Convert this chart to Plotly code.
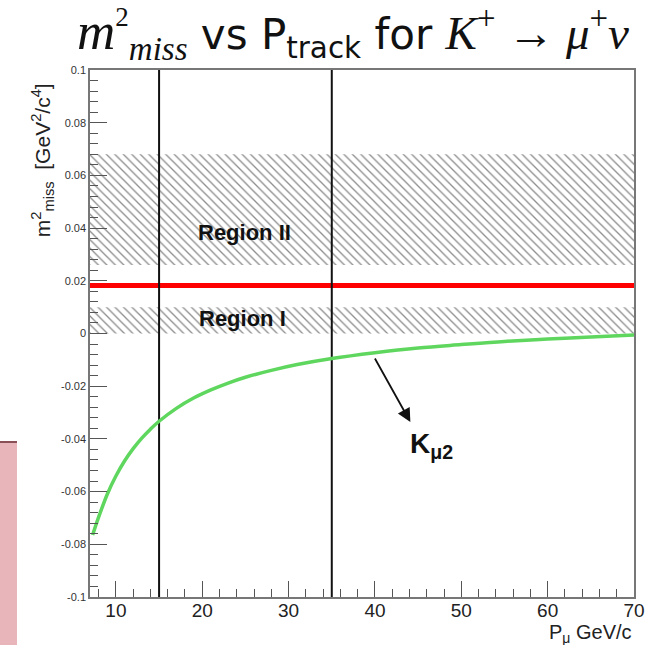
import plotly.graph_objects as go

# Track momentum (GeV/c) and squared missing mass (GeV^2/c^4) of the K_mu2 band
p_track = [7.3, 8, 9, 10, 11, 12, 13, 14, 15, 17, 19, 21, 23, 25, 28, 31, 35,
           40, 45, 50, 55, 60, 65, 70]
m2_kmu2 = [-0.0765, -0.0697, -0.0610, -0.0541, -0.0484, -0.0437, -0.0397, -0.0363,
           -0.0333, -0.0284, -0.0245, -0.0214, -0.0188, -0.0166, -0.0140, -0.0118,
           -0.0095, -0.0073, -0.0055, -0.0042, -0.0030, -0.0021, -0.0013, -0.0006]

# Signal regions in m^2_miss (low, high)
region_names = ["Region I", "Region II"]
region_low = [0.0, 0.026]
region_high = [0.010, 0.068]
region_label_x = [24.7, 24.9]
region_label_y = [0.0058, 0.0385]

# pi0 mass squared line
m2_pi0 = 0.0182

# Momentum cuts
p_cuts = [15, 35]

x_range = [7, 70]
y_range = [-0.1, 0.1]
y_tick_vals = [-0.1, -0.08, -0.06, -0.04, -0.02, 0, 0.02, 0.04, 0.06, 0.08, 0.1]
y_tick_text = ["-0.1", "-0.08", "-0.06", "-0.04", "-0.02", "0", "0.02", "0.04",
               "0.06", "0.08", "0.1"]

fig = go.Figure()

# hatched signal regions
for lo, hi in zip(region_low, region_high):
    fig.add_trace(go.Scatter(
        x=[x_range[0], x_range[1], x_range[1], x_range[0], x_range[0]],
        y=[lo, lo, hi, hi, lo],
        mode="lines", fill="toself",
        fillcolor="rgba(0,0,0,0)",
        fillpattern=dict(shape="\\", fgcolor="#1a1a1a", bgcolor="rgba(0,0,0,0)",
                         size=6, solidity=0.22),
        line=dict(width=0), hoverinfo="skip", showlegend=False))

# pi0 line
fig.add_trace(go.Scatter(x=x_range, y=[m2_pi0, m2_pi0], mode="lines",
                         line=dict(color="#ff0000", width=5), showlegend=False))

# momentum cut lines
for pc in p_cuts:
    fig.add_trace(go.Scatter(x=[pc, pc], y=y_range, mode="lines",
                             line=dict(color="#111111", width=2), showlegend=False))

# K_mu2 kinematic curve
fig.add_trace(go.Scatter(x=p_track, y=m2_kmu2, mode="lines",
                         line=dict(color="rgb(95,215,95)", width=3.5, shape="spline"),
                         showlegend=False))

for name, lx, ly in zip(region_names, region_label_x, region_label_y):
    fig.add_annotation(x=lx, y=ly, xref="x", yref="y", text="<b>%s</b>" % name,
                       showarrow=False,
                       font=dict(family="Liberation Sans, Arial", size=22, color="#111111"))

# arrow pointing from the curve to its label
fig.add_annotation(x=44.1, y=-0.0336, ax=39.9, ay=-0.0089, xref="x", yref="y",
                   axref="x", ayref="y", text="", showarrow=True,
                   arrowhead=2, arrowsize=1.5, arrowwidth=1.8, arrowcolor="#111111")
fig.add_annotation(x=46.6, y=-0.0425, xref="x", yref="y",
                   text="<b>K<sub>μ2</sub></b>", showarrow=False,
                   font=dict(family="Liberation Sans, Arial", size=28, color="#111111"))

# axis titles
fig.add_annotation(x=-0.088, y=0.829, xref="paper", yref="paper",
                   text="m<sup>2</sup><sub>miss</sub>  [GeV<sup>2</sup>/c<sup>4</sup>]",
                   textangle=-90, showarrow=False, xanchor="center", yanchor="middle",
                   font=dict(family="Liberation Sans, Arial", size=21, color="#222222"))
fig.add_annotation(x=1.0, y=-0.069, xref="paper", yref="paper",
                   text="P<sub>μ</sub> GeV/c", showarrow=False,
                   xanchor="right", yanchor="middle",
                   font=dict(family="Liberation Sans, Arial", size=20, color="#222222"))

# side panel strip on the left
fig.add_shape(type="rect", xref="paper", yref="paper",
              x0=-90 / 544, x1=-73 / 544, y0=-48 / 527, y1=155 / 527,
              fillcolor="#e8b6ba", line=dict(width=0), layer="below")
fig.add_shape(type="line", xref="paper", yref="paper",
              x0=-90 / 544, x1=-73 / 544, y0=155 / 527, y1=155 / 527,
              line=dict(color="#8a5058", width=2))

serif = "font-family:'Liberation Serif', 'DejaVu Serif', serif"
title_text = (
    "<span style=\"%s;font-size:53px\"><i>m</i><sup><span style=\"font-size:27px\">2</span></sup>"
    "<sub><span style=\"font-size:33px\"><i>miss</i></span></sub></span>"
    " vs P<sub>track</sub> for "
    "<span style=\"%s;font-size:47px\"><i>K</i><sup>+</sup> → <i>μ</i><sup>+</sup><i>ν</i></span>"
    % (serif, serif))

axis_common = dict(showgrid=False, zeroline=False, showline=True, linecolor="#777777",
                   linewidth=1.5, mirror=True, ticks="inside", tickcolor="#555555",
                   tickwidth=1.3)

fig.update_layout(
    width=662, height=645,
    margin=dict(l=90, r=28, t=70, b=48),
    paper_bgcolor="white", plot_bgcolor="white",
    title=dict(text=title_text, x=353 / 662, xanchor="center", y=1 - 34 / 645,
               yanchor="middle",
               font=dict(family="DejaVu Sans, Liberation Sans", size=42, color="#111111")),
    xaxis=dict(range=x_range, tick0=0, dtick=10, ticklen=16, ticklabelstandoff=-5,
               minor=dict(dtick=2, ticks="inside", ticklen=8, tickcolor="#555555"),
               tickfont=dict(family="Liberation Sans, Arial", size=19, color="#222222"),
               **axis_common),
    yaxis=dict(range=y_range, tickvals=y_tick_vals, ticktext=y_tick_text, ticklen=17,
               minor=dict(dtick=0.004, tick0=0, ticks="inside", ticklen=8,
                          tickcolor="#555555"),
               tickfont=dict(family="Liberation Sans, Arial", size=11, color="#333333"),
               **axis_common),
)

fig.write_html("out.html")
